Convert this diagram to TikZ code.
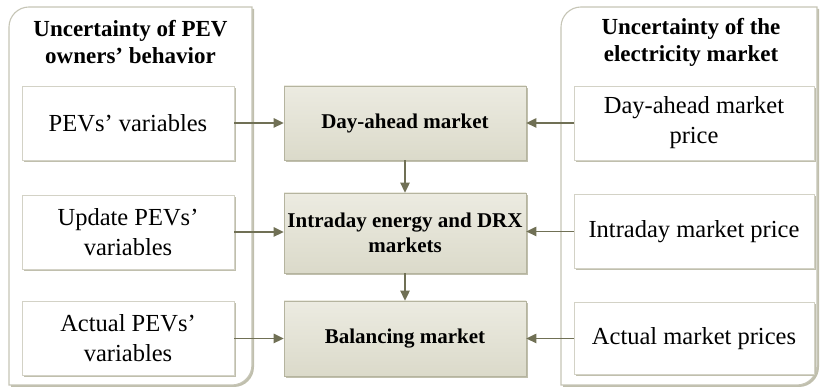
\documentclass[tikz,border=0pt]{standalone}
\usepackage{fontspec}
\setmainfont{Liberation Serif}
\usetikzlibrary{arrows.meta,shadows}
\tikzset{>={Triangle[length=10pt,width=9.5pt]}}
\definecolor{framecol}{HTML}{C6C5B6}
\definecolor{boxline}{HTML}{D3D2C6}
\definecolor{mktline}{HTML}{B5B49F}
\definecolor{mkttop}{HTML}{ECEBE1}
\definecolor{mktbot}{HTML}{DBDACA}
\definecolor{shadecol}{HTML}{C0BFAD}
\definecolor{arrowcol}{HTML}{707055}
\tikzset{
  shade3/.style={drop shadow={shadow xshift=2pt,shadow yshift=-2pt,fill=shadecol,opacity=1}},
  panel/.style={draw=framecol,line width=1.1pt,fill=white,shade3},
  paneltitle/.style={align=center,font=\fontsize{23}{27}\selectfont\bfseries},
  inbox/.style={draw=boxline,line width=0.8pt,fill=white,shade3,align=center,inner sep=2pt,
    minimum height=74pt,font=\fontsize{24.5}{30}\selectfont},
  lbox/.style={inbox,minimum width=212pt},
  rbox/.style={inbox,minimum width=240pt},
  mktbox/.style={draw=mktline,line width=0.8pt,top color=mkttop,bottom color=mktbot,shade3,
    align=center,inner sep=2pt,minimum width=242pt,minimum height=74pt,
    font=\fontsize{21}{25}\selectfont\bfseries},
  flow/.style={->,line width=1.4pt,draw=arrowcol,fill=arrowcol}
}
\begin{document}
\begin{tikzpicture}[x=1pt,y=1pt]
  \useasboundingbox (0,0) rectangle (820,390);
  % the two uncertainty panels
  \draw[panel] (9,5) -- (9,363) arc[start angle=180,end angle=90,radius=20pt]
    -- (252,383) -- (252,25) arc[start angle=0,end angle=-90,radius=20pt] -- cycle;
  \draw[panel] (561,5) -- (561,363) arc[start angle=180,end angle=90,radius=20pt]
    -- (817,383) -- (817,25) arc[start angle=0,end angle=-90,radius=20pt] -- cycle;
  \node[paneltitle] (tpev) at (130.5,348) {Uncertainty of PEV\\owners’ behavior};
  \node[paneltitle] (tmkt) at (691,348) {Uncertainty of the\\electricity market};
  % PEV side
  \node[lbox] (pev1) at (128,267) {PEVs’ variables};
  \node[lbox] (pev2) at (128,158) {Update PEVs’\\variables};
  \node[lbox] (pev3) at (128,51.5) {Actual PEVs’\\variables};
  % markets
  \node[mktbox] (da) at (405,267) {Day-ahead market};
  \node[mktbox,minimum height=80pt] (id) at (405,157) {Intraday energy and DRX\\markets};
  \node[mktbox,minimum height=75pt] (bal) at (405,51.5) {Balancing market};
  % price side
  \node[rbox] (pr1) at (694,267) {Day-ahead market\\price};
  \node[rbox] (pr2) at (694,158.5) {Intraday market price};
  \node[rbox,minimum height=72pt] (pr3) at (694,51.5) {Actual market prices};
  % connectors
  \draw[flow] (pev1.east) -- (pev1.east -| da.west);
  \draw[flow] (pev2.east) -- (pev2.east -| id.west);
  \draw[flow] (pev3.east) -- (pev3.east -| bal.west);
  \draw[flow] (pr1.west) -- (pr1.west -| da.east);
  \draw[flow] (pr2.west) -- (pr2.west -| id.east);
  \draw[flow] (pr3.west) -- (pr3.west -| bal.east);
  \draw[flow] (da.south) -- (id.north);
  \draw[flow] (id.south) -- (bal.north);
\end{tikzpicture}
\end{document}
